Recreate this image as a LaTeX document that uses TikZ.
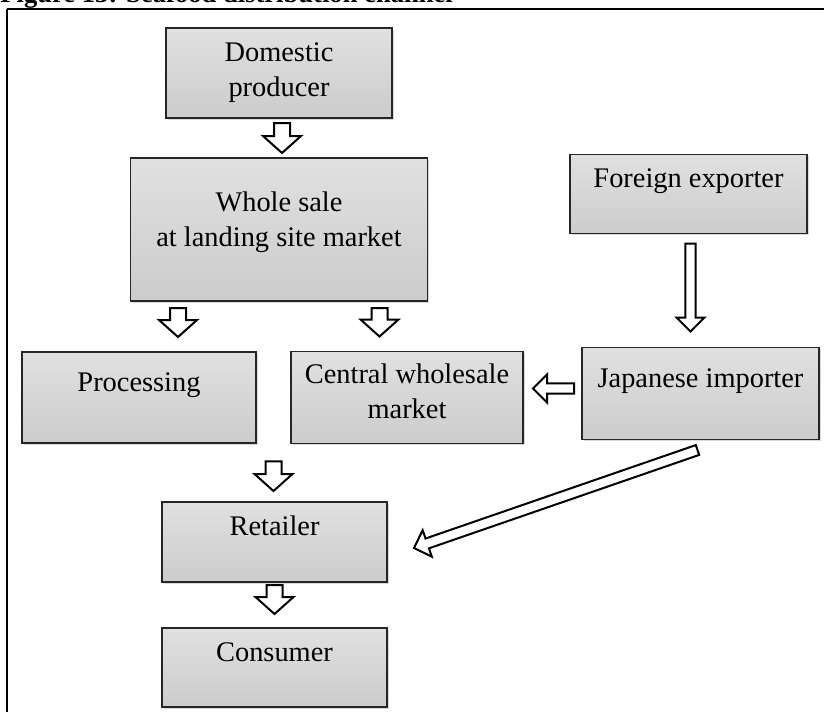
\documentclass[tikz,border=0pt]{standalone}
\usepackage{fontspec}
\setmainfont{Liberation Serif}
\usetikzlibrary{positioning,calc,shadows}

% hollow block arrow from start to target: #1 half shaft, #2 half head, #3 head length
\tikzset{
  flow/.style n args={3}{draw, fill=white, line width=1pt, line join=miter,
    to path={
      ($(\tikztostart)!#1!90:(\tikztotarget)$) --
      ($(\tikztotarget)!#3!(\tikztostart)!#1!-90:(\tikztostart)$) --
      ($(\tikztotarget)!#3!(\tikztostart)!#2!-90:(\tikztostart)$) --
      (\tikztotarget) --
      ($(\tikztotarget)!#3!(\tikztostart)!#2!90:(\tikztostart)$) --
      ($(\tikztotarget)!#3!(\tikztostart)!#1!90:(\tikztostart)$) --
      ($(\tikztostart)!#1!-90:(\tikztotarget)$) -- cycle}},
  shortflow/.style={flow={4pt}{9.5pt}{8.5pt}},
  longflow/.style={flow={2.6pt}{7pt}{7pt}}
}

\begin{document}
\begin{tikzpicture}
    \tikzstyle{stage} = [rectangle, draw=black!85, line width=0.8pt, outer sep=0pt, top color=gray!24, middle color=gray!7, bottom color=gray!40, drop shadow={opacity=0.3, shadow xshift=0.8pt, shadow yshift=-0.8pt}, align=center, minimum width=117pt, minimum height=45.5pt, font=\fontsize{14.2}{17.5}\selectfont]
    \tikzstyle{oneline} = [text height=10pt, text depth=16.4pt]
    \useasboundingbox (0,0) rectangle (412pt,-356pt);

    \node [anchor=base west, inner sep=0pt, font=\bfseries\fontsize{13.3}{16}\selectfont] (ttl) at (0pt,-1.5pt) {Figure 13: Seafood distribution channel};
    \draw [line width=1pt] (412pt,-4.6pt) -- (3.5pt,-4.6pt);
    \draw [line width=1.4pt] (3.5pt,-4.6pt) -- (3.5pt,-356pt);

    \node [stage, minimum width=113pt, minimum height=45pt] (dp) at (139.5pt,-36.5pt) {Domestic\\producer};
    \node [stage, below=20pt of dp, minimum width=148.5pt, minimum height=71.5pt, text depth=10pt] (ws) {Whole sale\\at landing site market};
    \node [stage, oneline, below=25.5pt of ws, xshift=-70pt] (pr) {Processing};
    \node [stage, right=17.5pt of pr, minimum width=116pt, minimum height=46pt, text depth=6.2pt] (cw) {Central wholesale\\market};
    \node [stage, oneline, right=29.5pt of cw, yshift=2pt, minimum width=118.5pt, minimum height=46pt] (ji) {Japanese importer};
    \node [stage, oneline, above=57pt of ji, xshift=-6pt, minimum width=118.5pt, minimum height=39.5pt] (fe) {Foreign exporter};
    \node [stage, oneline, below=29.5pt of pr, xshift=67.75pt, minimum width=112.5pt, minimum height=40pt] (rt) {Retailer};
    \node [stage, oneline, below=23pt of rt, minimum width=112.5pt, minimum height=39.5pt] (cs) {Consumer};

    % arrow ends
    \coordinate (dp-out) at ($(dp.south)+(1.5pt,-2.5pt)$);
    \coordinate (ws-in) at ($(ws.north)+(1.5pt,2.5pt)$);
    \coordinate (ws-l) at ($(ws.south west)+(23.75pt,-3.5pt)$);
    \coordinate (pr-in) at ($(ws-l |- pr.north)+(0,7.5pt)$);
    \coordinate (ws-r) at ($(ws.south east)+(-24pt,-3.5pt)$);
    \coordinate (cw-in) at ($(ws-r |- cw.north)+(0,7.5pt)$);
    \coordinate (mid) at ($(pr.south east)!0.5!(cw.south west)$);
    \coordinate (mid-out) at ($(mid)+(0,-9pt)$);
    \coordinate (rt-in) at ($(mid |- rt.north)+(0,5.5pt)$);
    \coordinate (rt-out) at ($(rt.south)+(0,-1.5pt)$);
    \coordinate (cs-in) at ($(cs.north)+(0,7pt)$);
    \coordinate (fe-out) at ($(fe.south)+(1pt,-5pt)$);
    \coordinate (ji-in) at ($(fe-out |- ji.north)+(0,8pt)$);
    \coordinate (ji-w) at ($(ji.west)+(-4pt,2.5pt)$);
    \coordinate (cw-e) at ($(cw.east |- ji-w)+(5pt,0)$);
    \coordinate (ji-s) at ($(ji.south)+(-1.5pt,-5.25pt)$);
    \coordinate (rt-e) at ($(rt.east)+(13.5pt,-3pt)$);

    \draw [shortflow] (dp-out) to (ws-in);
    \draw [shortflow] (ws-l) to (pr-in);
    \draw [shortflow] (ws-r) to (cw-in);
    \draw [shortflow] (mid-out) to (rt-in);
    \draw [shortflow] (rt-out) to (cs-in);
    \draw [longflow] (fe-out) to (ji-in);
    \draw [longflow] (ji-w) to (cw-e);
    \draw [longflow] (ji-s) to (rt-e);
\end{tikzpicture}
\end{document}
